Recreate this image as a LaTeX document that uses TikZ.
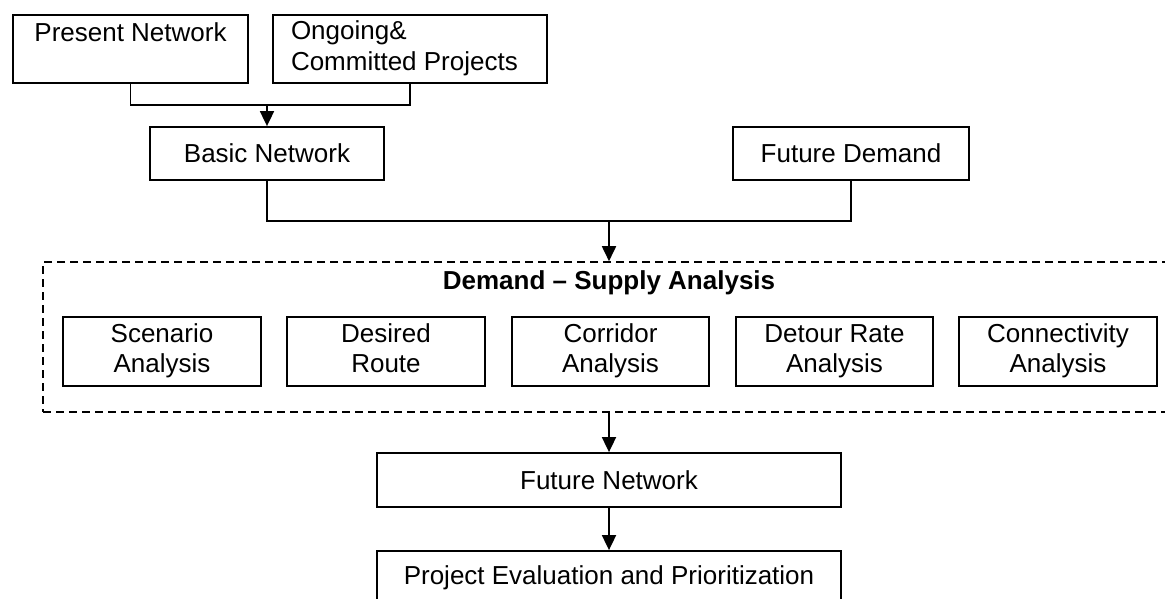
\documentclass[tikz,border=0pt]{standalone}
\usepackage{fontspec}
\setmainfont{Liberation Sans}
\usetikzlibrary{arrows.meta}
\begin{document}
\begin{tikzpicture}[x=1pt,y=-1pt,
  font=\fontsize{26}{30.5}\selectfont,
  box/.style={draw=black,line width=1.8pt,rectangle,inner sep=0pt,align=center},
  frame/.style={draw=black,line width=1.6pt,dash pattern=on 8pt off 5pt,rectangle,inner sep=0pt},
  conn/.style={draw=black,line width=1.8pt},
  arr/.style={conn,-{Triangle[length=15pt,width=14pt]}}]
\useasboundingbox (0,0) rectangle (1165,598);
% top row
\node[box,minimum width=235pt,minimum height=68pt,text height=19pt,text depth=35pt] (present) at (130.5,49) {Present Network};
\node[box,minimum width=274pt,minimum height=68pt,text width=238pt,align=flush left] (ongoing) at (410,49) {\strut Ongoing\&\\\strut Committed Projects};
\node[box,minimum width=234pt,minimum height=53pt] (basic) at (267,153.5) {Basic Network};
\node[box,minimum width=236pt,minimum height=53pt] (demand) at (851,153.5) {Future Demand};
% dashed frame
\node[frame,minimum width=1132pt,minimum height=150pt] (frame) at (609,337) {};
\node[inner sep=0pt] (title) at (609,283) {\bfseries Demand -- Supply Analysis};
\node[box,minimum width=198pt,minimum height=69pt] (scen) at (162,351.5) {\strut Scenario\\\strut Analysis};
\node[box,minimum width=198pt,minimum height=69pt] (desired) at (386,351.5) {\strut Desired\\\strut Route};
\node[box,minimum width=197pt,minimum height=69pt] (corr) at (610.5,351.5) {\strut Corridor\\\strut Analysis};
\node[box,minimum width=197pt,minimum height=69pt] (detour) at (834.5,351.5) {\strut Detour Rate\\\strut Analysis};
\node[box,minimum width=198pt,minimum height=69pt] (connect) at (1058,351.5) {\strut Connectivity\\\strut Analysis};
% bottom
\node[box,minimum width=464pt,minimum height=54pt] (future) at (609,480) {Future Network};
\node[box,minimum width=464pt,minimum height=54pt] (project) at (609,578) {Project Evaluation and Prioritization};
% connectors
\coordinate (j1) at (267,105);
\coordinate (j2) at (609,221);
\draw[conn] (present.south) |- (ongoing.south |- j1) -- (ongoing.south);
\draw[arr] (j1) -- (basic.north);
\draw[conn] (basic.south) |- (demand.south |- j2) -- (demand.south);
\draw[arr] (j2) -- (frame.north);
\draw[arr] (frame.south) -- (future.north);
\draw[arr] (future.south) -- (project.north);
\end{tikzpicture}
\end{document}
